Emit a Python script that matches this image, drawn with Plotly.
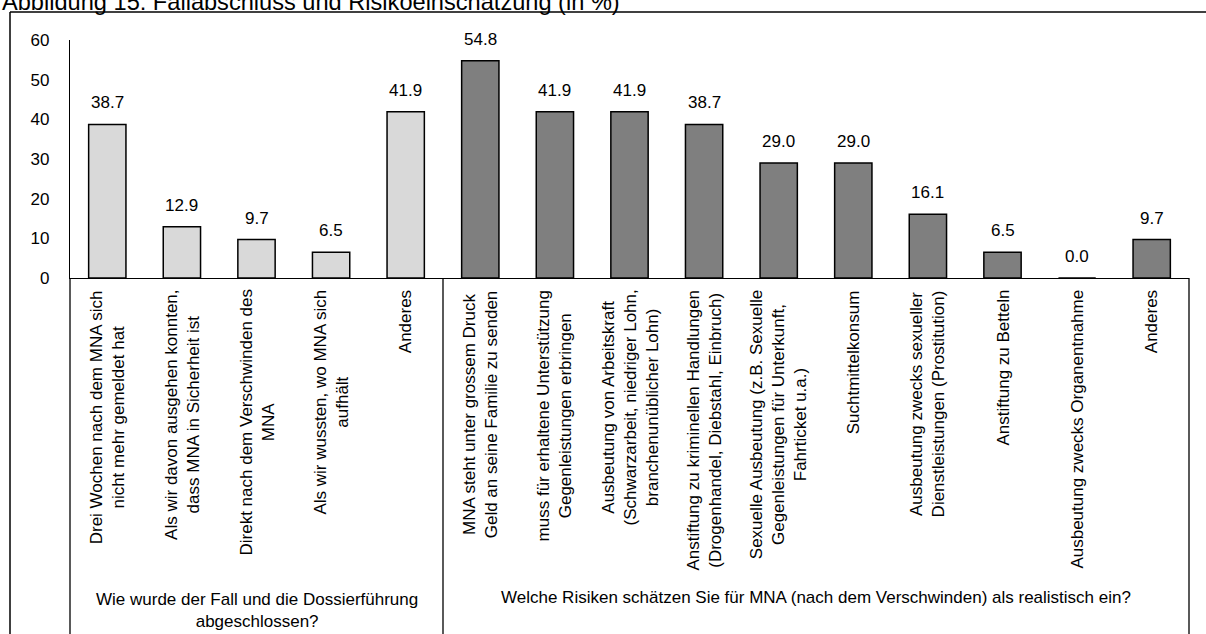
import plotly.graph_objects as go

# ---- data -------------------------------------------------------------
title_text = "Abbildung 15: Fallabschluss und Risikoeinschätzung (in %)"

group_titles = [
    "Wie wurde der Fall und die Dossierführung<br>abgeschlossen?",
    "Welche Risiken schätzen Sie für MNA (nach dem Verschwinden) als realistisch ein?",
]

closure_labels = [
    "Drei Wochen nach dem MNA sich<br>nicht mehr gemeldet hat",
    "Als wir davon ausgehen konnten,<br>dass MNA in Sicherheit ist",
    "Direkt nach dem Verschwinden des<br>MNA",
    "Als wir wussten, wo MNA sich<br>aufhält",
    "Anderes",
]
closure_values = [38.7, 12.9, 9.7, 6.5, 41.9]

risk_labels = [
    "MNA steht unter grossem Druck<br>Geld an seine Familie zu senden",
    "muss für erhaltene Unterstützung<br>Gegenleistungen erbringen",
    "Ausbeutung von Arbeitskraft<br>(Schwarzarbeit, niedriger Lohn,<br>branchenunüblicher Lohn)",
    "Anstiftung zu kriminellen Handlungen<br>(Drogenhandel, Diebstahl, Einbruch)",
    "Sexuelle Ausbeutung (z.B. Sexuelle<br>Gegenleistungen für Unterkunft,<br>Fahrticket u.a.)",
    "Suchtmittelkonsum",
    "Ausbeutung zwecks sexueller<br>Dienstleistungen (Prostitution)",
    "Anstiftung zu Betteln",
    "Ausbeutung zwecks Organentnahme",
    "Anderes",
]
risk_values = [54.8, 41.9, 41.9, 38.7, 29.0, 29.0, 16.1, 6.5, 0.0, 9.7]

y_ticks = [0, 10, 20, 30, 40, 50, 60]

# ---- page geometry ----------------------------------------------------
W, H = 1206, 634
ML, MR, MT, MB = 70, 17, 40, 356
PW, PH = W - ML - MR, H - MT - MB

FONT = "Liberation Sans, Arial, sans-serif"
LIGHT = "#d9d9d9"
DARK = "#7f7f7f"


def px_x(px):
    return (px - ML) / PW


def px_y(py):
    return (H - MB - py) / PH


n1 = len(closure_labels)
pos1 = list(range(n1))
pos2 = list(range(n1, n1 + len(risk_labels)))
n_all = n1 + len(risk_labels)

fig = go.Figure()
bar_line = dict(color="black", width=1.5)
fig.add_trace(go.Bar(x=pos1, y=closure_values, marker=dict(color=LIGHT, line=bar_line),
                     hoverinfo="skip"))
fig.add_trace(go.Bar(x=pos2, y=risk_values, marker=dict(color=DARK, line=bar_line),
                     hoverinfo="skip"))

annotations = []

# value labels above the bars
for xs, vals in ((pos1, closure_values), (pos2, risk_values)):
    for x, v in zip(xs, vals):
        annotations.append(dict(
            x=x, y=v, xref="x", yref="y", text=f"{v:.1f}", showarrow=False,
            yanchor="bottom", yshift=10, font=dict(family=FONT, size=17, color="black")))

# rotated category labels below the axis
for x, lab in zip(pos1 + pos2, closure_labels + risk_labels):
    annotations.append(dict(
        x=x, y=px_y(288), xref="x", yref="paper", text=lab, showarrow=False,
        textangle=-90, xanchor="center", yanchor="top", align="center",
        font=dict(family=FONT, size=17, color="black")))

# group captions
annotations.append(dict(
    x=(pos1[0] + pos1[-1]) / 2, y=px_y(588), xref="x", yref="paper",
    text=group_titles[0], showarrow=False, xanchor="center", yanchor="top",
    align="center", font=dict(family=FONT, size=17, color="black")))
annotations.append(dict(
    x=(pos2[0] + pos2[-1]) / 2, y=px_y(586), xref="x", yref="paper",
    text=group_titles[1], showarrow=False, xanchor="center", yanchor="top",
    align="center", font=dict(family=FONT, size=17, color="black")))

# figure title
annotations.append(dict(
    x=px_x(0), y=px_y(17), xref="paper", yref="paper", text=title_text,
    showarrow=False, xanchor="left", yanchor="bottom",
    font=dict(family=FONT, size=23.6, color="black")))

shapes = []
line_axis = dict(color="black", width=1.3)
# vertical dividers of the category table
for xv, xr in ((px_x(ML), "paper"), (n1 - 0.5, "x"), (1.0, "paper")):
    shapes.append(dict(type="line", xref=xr, yref="paper", x0=xv, x1=xv,
                       y0=0, y1=px_y(H + 10), line=line_axis))
# outer frame
frame = dict(color="black", width=1.5)
shapes.append(dict(type="line", xref="paper", yref="paper", x0=px_x(10), x1=px_x(W + 10),
                   y0=px_y(12), y1=px_y(12), line=frame))
shapes.append(dict(type="line", xref="paper", yref="paper", x0=px_x(10), x1=px_x(10),
                   y0=px_y(12), y1=px_y(H + 10), line=frame))

fig.update_layout(
    width=W, height=H,
    margin=dict(l=ML, r=MR, t=MT, b=MB, pad=0),
    paper_bgcolor="white", plot_bgcolor="white",
    barmode="overlay", bargap=0.5, showlegend=False,
    font=dict(family=FONT, size=17, color="black"),
    annotations=annotations, shapes=shapes,
    xaxis=dict(range=[-0.5, n_all - 0.5], showticklabels=False, ticks="",
               showgrid=False, zeroline=False, showline=True,
               linecolor="black", linewidth=1.3, automargin=False, fixedrange=True),
    yaxis=dict(range=[0, 60], tickvals=y_ticks, ticks="", showgrid=False,
               zeroline=False, showline=True, linecolor="black", linewidth=1.3,
               tickfont=dict(family=FONT, size=17, color="black"),
               ticklabelstandoff=16, automargin=False, fixedrange=True),
)

fig.write_html("out.html")
